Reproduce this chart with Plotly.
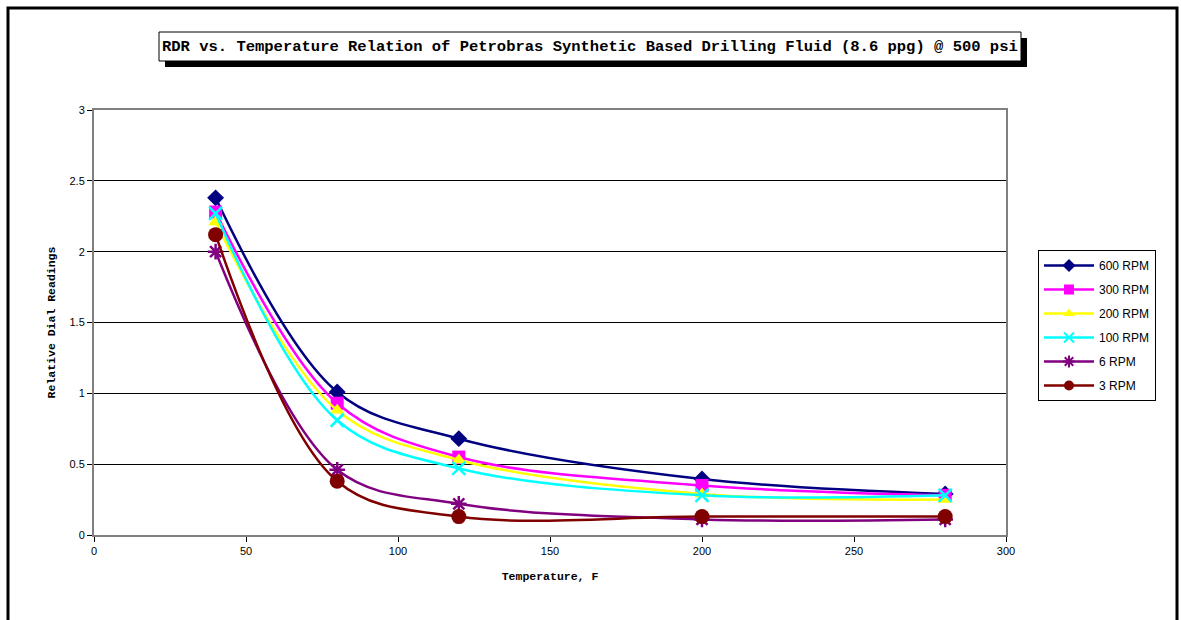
import plotly.graph_objects as go

# Temperature (F) and relative dial readings for each rotor speed
temperature = [40, 80, 120, 200, 280]
rpm_600 = [2.38, 1.01, 0.68, 0.395, 0.29]
rpm_300 = [2.28, 0.93, 0.55, 0.35, 0.28]
rpm_200 = [2.21, 0.88, 0.53, 0.29, 0.25]
rpm_100 = [2.27, 0.81, 0.47, 0.28, 0.28]
rpm_6 = [2.00, 0.46, 0.22, 0.11, 0.11]
rpm_3 = [2.12, 0.38, 0.13, 0.13, 0.13]

series_names = ["600 RPM", "300 RPM", "200 RPM", "100 RPM", "6 RPM", "3 RPM"]
series_values = [rpm_600, rpm_300, rpm_200, rpm_100, rpm_6, rpm_3]
series_colors = ["#000080", "#FF00FF", "#FFFF00", "#00FFFF", "#800080", "#800000"]
series_symbols = ["diamond", "square", "triangle-up", "x-thin-open", "asterisk-open", "circle"]
series_sizes = [13, 13, 13, 13, 13, 15]

title_text = "RDR vs. Temperature Relation of Petrobras Synthetic Based Drilling Fluid (8.6 ppg) @ 500 psi"

W, H = 1181, 620
L, R, T, B = 94, 1006, 110, 535  # plot area edges in pixels


def px_x(x):
    return (x - L) / (R - L)


def px_y(y):
    return (B - y) / (B - T)


fig = go.Figure()
for name, vals, color, sym, size in zip(series_names, series_values, series_colors,
                                        series_symbols, series_sizes):
    open_sym = sym.endswith("open")
    fig.add_trace(go.Scatter(
        x=temperature, y=vals, name=name, mode="lines+markers",
        line=dict(color=color, width=2.5, shape="spline", smoothing=1),
        marker=dict(symbol=sym, size=size, color=color,
                    line=dict(color=color, width=2.5 if open_sym else 0)),
        legendgroup=name, showlegend=False,
    ))

# legend entries with smaller key markers
for name, color, sym in zip(series_names, series_colors, series_symbols):
    open_sym = sym.endswith("open")
    fig.add_trace(go.Scatter(
        x=[None], y=[None], name=name, mode="lines+markers",
        line=dict(color=color, width=2.5),
        marker=dict(symbol=sym, size=10, color=color,
                    line=dict(color=color, width=2 if open_sym else 0)),
        legendgroup=name, showlegend=True,
    ))

mono = "Liberation Mono, Courier New, monospace"
sans = "Liberation Sans, Arial, sans-serif"

fig.update_layout(
    width=W, height=H,
    margin=dict(l=L, r=W - R, t=T, b=H - B, pad=0),
    paper_bgcolor="white", plot_bgcolor="white",
    showlegend=True,
    legend=dict(
        x=px_x(1038), y=px_y(250), xanchor="left", yanchor="top",
        bgcolor="white", bordercolor="black", borderwidth=1,
        font=dict(family=sans, size=12, color="black"),
        tracegroupgap=5, itemwidth=50,
    ),
    xaxis=dict(
        range=[0, 300], dtick=50, tick0=0,
        showgrid=False, zeroline=False,
        showline=True, mirror=True, linecolor="#808080", linewidth=2,
        ticks="outside", ticklen=5, tickcolor="black",
        tickfont=dict(family=sans, size=11, color="black"),
        title=dict(text="<b>Temperature, F</b>", standoff=16,
                   font=dict(family=mono, size=11.5, color="black")),
    ),
    yaxis=dict(
        range=[0, 3], dtick=0.5, tick0=0,
        showgrid=True, gridcolor="black", gridwidth=1,
        zeroline=False,
        showline=True, mirror=True, linecolor="#808080", linewidth=2,
        ticks="outside", ticklen=5, tickcolor="black",
        tickfont=dict(family=sans, size=11, color="black"),
        title=dict(text="<b>Relative Dial Readings</b>", standoff=11,
                   font=dict(family=mono, size=11.5, color="black")),
    ),
    shapes=[
        # outer chart frame
        dict(type="rect", xref="paper", yref="paper",
             x0=px_x(8), x1=px_x(1177), y0=px_y(640), y1=px_y(8),
             line=dict(color="black", width=3), fillcolor="rgba(0,0,0,0)"),
        # title box shadow
        dict(type="rect", xref="paper", yref="paper",
             x0=px_x(165), x1=px_x(1027), y0=px_y(67), y1=px_y(38),
             line=dict(width=0), fillcolor="black"),
        # title box
        dict(type="rect", xref="paper", yref="paper",
             x0=px_x(159), x1=px_x(1021), y0=px_y(61), y1=px_y(32),
             line=dict(color="black", width=1), fillcolor="white"),
    ],
    annotations=[
        dict(text="<b>" + title_text + "</b>", xref="paper", yref="paper",
             x=px_x(590), y=px_y(46.5), xanchor="center", yanchor="middle",
             showarrow=False, font=dict(family=mono, size=15.5, color="black")),
    ],
)

fig.write_html("out.html")
